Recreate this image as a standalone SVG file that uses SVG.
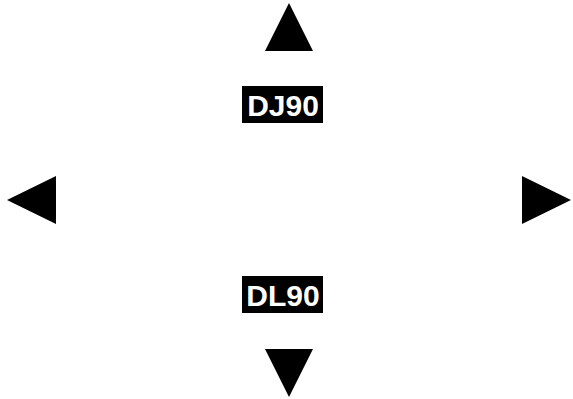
<svg xmlns="http://www.w3.org/2000/svg" width="573" height="399" viewBox="0 0 573 399">
<style>
.arrow{fill:#000;stroke:none}
.box{fill:#000}
.lbl{font-family:"Liberation Sans",Arial,sans-serif;font-weight:bold;font-size:30px;fill:#fff;text-anchor:middle}
</style>
<rect width="573" height="399" fill="#fff"/>
<g id="up"><polygon class="arrow" points="289,3 265,51 313,51"/></g>
<g id="down"><polygon class="arrow" points="289,397 265,349 313,349"/></g>
<g id="left"><polygon class="arrow" points="7,200 56,176 56,224"/></g>
<g id="right"><polygon class="arrow" points="571,200 522,176 522,224"/></g>
<g id="dj90"><rect class="box" x="242" y="86" width="81" height="37"/><text class="lbl" x="283" y="115.5">DJ90</text></g>
<g id="dl90"><rect class="box" x="242" y="276" width="81" height="37"/><text class="lbl" x="283" y="305.5">DL90</text></g>
<g id="connectors"></g>
</svg>
